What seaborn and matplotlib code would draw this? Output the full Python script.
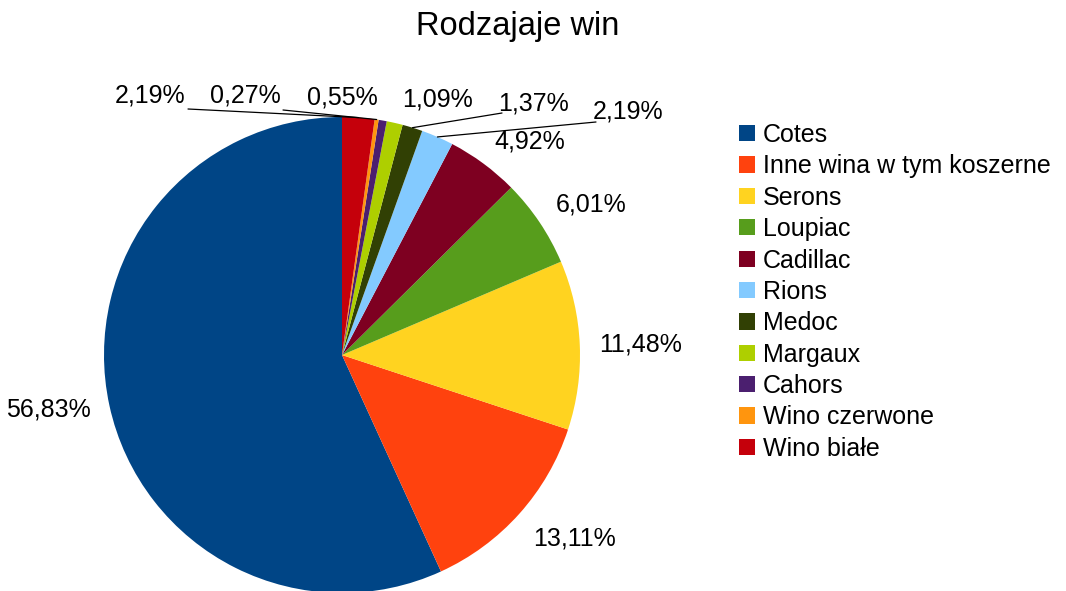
import numpy as np
import matplotlib
matplotlib.use("Agg")
import matplotlib.pyplot as plt
import seaborn as sns
from matplotlib.patches import Patch

sns.set_theme(style="white")
plt.rcParams['font.family'] = ['Liberation Sans', 'DejaVu Sans']
plt.rcParams['text.color'] = 'black'

title = "Rodzajaje win"
categories = ["Cotes", "Inne wina w tym koszerne", "Serons", "Loupiac", "Cadillac",
              "Rions", "Medoc", "Margaux", "Cahors", "Wino czerwone", "Wino białe"]
values = [56.83, 13.11, 11.48, 6.01, 4.92, 2.19, 1.37, 1.09, 0.55, 0.27, 2.19]
colors = ["#004586", "#ff420e", "#ffd320", "#579d1c", "#7e0021", "#83caff",
          "#314004", "#aecf00", "#4b1f6f", "#ff950e", "#c5000b"]
labels = [f"{v:.2f}%".replace(".", ",") for v in values]

W, H = 1066, 591
fig = plt.figure(figsize=(W / 100, H / 100), dpi=100)
ax = fig.add_axes([0, 0, 1, 1])

cx, cy, R = 342, H - 355, 238
wedges, _ = ax.pie(values, colors=colors, startangle=90, counterclock=True,
                   center=(cx, cy), radius=R, wedgeprops=dict(linewidth=0),
                   frame=True)
ax.set_xlim(0, W)
ax.set_ylim(0, H)
ax.axis("off")

fs = 18
# label positions for small slices placed in a row on top (pixel coords, y down)
top_pos = {5: (628, 112), 6: (534, 103), 7: (437, 99), 8: (342, 97),
           9: (245, 96), 10: (150, 95)}
leader = {5, 6, 9, 10}

for i, w in enumerate(wedges):
    mid = np.deg2rad((w.theta1 + w.theta2) / 2)
    ex, ey = cx + R * np.cos(mid), cy + R * np.sin(mid)
    if i in top_pos:
        lx, ly = top_pos[i]
        ly = H - ly
        ax.text(lx, ly, labels[i], ha="center", va="center", fontsize=fs, color="black")
        if i in leader:
            if lx < cx:
                sx, sy = lx + 38, ly - 14
            else:
                sx, sy = lx - 32, ly - 10
            ax.plot([sx, ex], [sy, ey], color="black", lw=0.9)
    else:
        d = 1.08 * R
        px, py = cx + d * np.cos(mid), cy + d * np.sin(mid)
        c, s = np.cos(mid), np.sin(mid)
        ha = "left" if c > 0.1 else ("right" if c < -0.1 else "center")
        va = "baseline" if s > 0.3 else ("top" if s < -0.3 else "center")
        ax.text(px, py, labels[i], ha=ha, va=va, fontsize=fs, color="black")

fig.text(518 / W, 1 - 27 / H, title, ha="center", va="center", fontsize=23.5, color="black")

handles = [Patch(facecolor=c, edgecolor="none") for c in colors]
leg = fig.legend(handles, categories, loc="upper left", bbox_to_anchor=(739 / W, 1 - 123 / H),
                 frameon=False, fontsize=fs, handlelength=0.62, handleheight=0.62,
                 handletextpad=0.33, labelspacing=0.295, borderaxespad=0, borderpad=0,
                 labelcolor="black")

fig.savefig("out.png", dpi=100, facecolor="white")
